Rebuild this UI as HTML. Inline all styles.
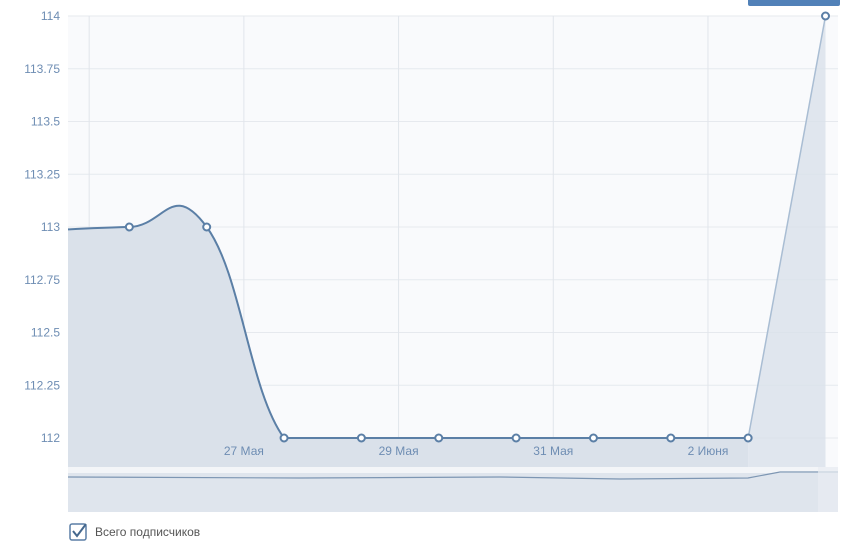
<!DOCTYPE html>
<html><head><meta charset="utf-8"><style>
body{margin:0;width:859px;height:543px;background:#fff;font-family:"Liberation Sans","Noto Sans CJK SC",sans-serif;overflow:hidden}
svg text{font-family:"Liberation Sans","Noto Sans CJK SC",sans-serif}
</style></head><body>
<svg id="c" width="859" height="543">
<rect x="748" y="-4" width="92" height="10" rx="2" fill="#5181b8"/>
<rect x="68" y="16" width="770" height="451" fill="#f9fafc"/>
<g id="grid"></g>
<g id="marks"></g>
<rect x="68" y="467" width="770" height="6" fill="#f3f5f8"/>
<rect x="68" y="473" width="770" height="39" fill="#dfe5ed"/>
<path d="M68 477 L300 478 L500 477 L620 479 L748 478 L780 472 L838 472" fill="none" stroke="#7d96b3" stroke-width="1.2"/>
<rect x="818" y="467" width="20" height="45" fill="#e8ecf2" opacity="0.7"/>
<rect x="70" y="524" width="16" height="16" rx="2" fill="#fff" stroke="#5b7fa6" stroke-width="1.5"/>
<path d="M73 531 L77 536 L86 524" fill="none" stroke="#45688e" stroke-width="2"/>
<text x="95" y="536" font-size="12" fill="#555">Всего подписчиков</text>
</svg>
<script>
const yTicks=[112,112.25,112.5,112.75,113,113.25,113.5,113.75,114];
const xLabels=["27 Мая","29 Мая","31 Мая","2 Июня"];
const xLabelIdx=[2,4,6,8];
const values=[112.985,113,113,112,112,112,112,112,112,112,114];
const ns="http://www.w3.org/2000/svg";
const x0=52,dx=77.35,yTop=16,yBot=438,vMin=112,vMax=114;
function X(i){return x0+i*dx;}
function Y(v){return yBot-(v-vMin)/(vMax-vMin)*(yBot-yTop);}
function mk(t,a,p){const e=document.createElementNS(ns,t);for(const k in a)e.setAttribute(k,a[k]);p.appendChild(e);return e;}
const grid=document.getElementById('grid'),marks=document.getElementById('marks');
yTicks.forEach(v=>{
 const l=mk('line',{x1:68,x2:838,y1:Y(v),y2:Y(v),stroke:'#e6e9ee'},grid);
 
 
 const t=mk('text',{x:60,y:Y(v)+4,'text-anchor':'end','font-size':12,fill:'#6e8db3'},grid);
 t.textContent=String(v);
 
 
});
[0.5,2.5,4.5,6.5,8.5].forEach(k=>{
 const xx=X(k)-1.5;
 const l=mk('line',{x1:xx,x2:xx,y1:16,y2:445,stroke:'#e1e5eb'},grid);
 
 
});
const pts=values.map((v,i)=>[X(i),Y(v)]);
const floorY=Y(Math.min(...values));
function cl(y){return Math.min(y,floorY);}
function seg(i){const p0=pts[Math.max(i-1,0)],p1=pts[i],p2=pts[i+1],p3=pts[Math.min(i+2,pts.length-1)];
 const s=0.45;
 let c1y=p1[1]+(p2[1]-p0[1])*s/2, c2y=p2[1]-(p3[1]-p1[1])*s/2;
 if(p1[1]===p2[1]&&p1[1]===floorY){c1y=floorY;c2y=floorY;}
 return ` C${p1[0]+(p2[0]-p0[0])*s/2},${cl(c1y)} ${p2[0]-(p3[0]-p1[0])*s/2},${cl(c2y)} ${p2[0]},${p2[1]}`;}
let d=`M${pts[0][0]},${pts[0][1]}`;
for(let i=0;i<pts.length-2;i++)d+=seg(i);
const lastSeg=`M${pts[pts.length-2][0]},${pts[pts.length-2][1]} L${pts[pts.length-1][0]},${pts[pts.length-1][1]}`;
const cp=mk('clipPath',{id:'clip'},marks);
mk('rect',{x:68,y:0,width:770,height:467},cp);
const g=mk('g',{'clip-path':'url(#clip)'},marks);
const a=mk('path',{d:d+` L${pts[pts.length-2][0]},467 L${pts[0][0]},467 Z`,fill:'#dae1ea'},g);


const a2=mk('path',{d:lastSeg+` L${pts[pts.length-1][0]},467 L${pts[pts.length-2][0]},467 Z`,fill:'#dae1ea',opacity:0.8},g);


const ln=mk('path',{d:d,fill:'none',stroke:'#5b7fa6','stroke-width':2},g);


const ln2=mk('path',{d:lastSeg,fill:'none',stroke:'#a9bdd3','stroke-width':1.5},g);


xLabels.forEach((s,k)=>{
 const t=mk('text',{x:X(xLabelIdx[k]+0.5)-1.5,y:455,'text-anchor':'middle','font-size':12,fill:'#6e8db3'},marks);
 t.textContent=s;
 
 
});
for(let i=1;i<values.length;i++){
 const c=mk('circle',{cx:X(i),cy:Y(values[i]),r:3.5,fill:'#fff',stroke:'#5b7fa6','stroke-width':2},marks);
 
 
}
</script>
</body></html>
